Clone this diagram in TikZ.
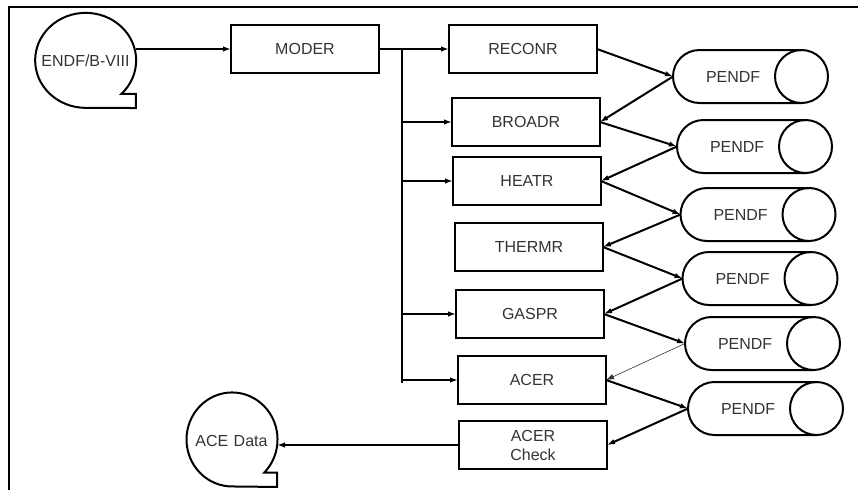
\documentclass[tikz,border=0pt]{standalone}
\usepackage{fontspec}
\setmainfont{Liberation Sans}
\usetikzlibrary{shapes.geometric,arrows.meta}
\definecolor{txtgray}{HTML}{333333}
\begin{document}
\begin{tikzpicture}[x=1pt,y=1pt,
    line width=2pt,
    proc/.style={draw,minimum width=148pt,minimum height=48pt,inner sep=0pt,outer sep=0pt,
      font=\fontsize{16}{19}\selectfont,text=txtgray,align=center},
    tape/.style={ellipse,outer sep=0pt,text height=12pt,text depth=0pt,align=center,
      font=\fontsize{16}{19}\selectfont,text=txtgray},
    pendf/.style={minimum height=53pt,inner xsep=33pt,inner ysep=0pt,outer sep=0pt,text width=89pt,
      align=left,font=\fontsize{16}{19}\selectfont,text=txtgray},
    arr/.style={-{Latex[length=8pt,width=5.5pt]}}]
    \useasboundingbox (0,0) rectangle (858,-490);
    \draw[line width=2.4pt] (9,-490) -- (9,-7) -- (858,-7);
    % data sources
    \node[tape,text width=90pt,inner xsep=-9.3pt,inner ysep=27.6pt] (endf) at (85.5,-60.5) {ENDF/B-VIII};
    \node[tape,text width=74pt,inner xsep=-4.8pt,inner ysep=27.2pt] (acedata) at (231.5,-440) {ACE Data};
    \draw (endf.-43.25) arc[start angle=-45,end angle=270,x radius=50.5pt,y radius=47.5pt]
      -- (endf.south -| endf.east) -- (endf.east |- endf.-43.25) -- cycle;
    \draw (acedata.-45.9) arc[start angle=-45,end angle=270,x radius=45.5pt,y radius=47pt]
      -- (acedata.south -| acedata.east) -- (acedata.east |- acedata.-45.9) -- cycle;
    % modules
    \node[proc] (moder) at (305,-49) {MODER};
    \node[proc] (reconr) at (523,-49) {RECONR};
    \node[proc] (broadr) at (526,-122) {BROADR};
    \node[proc] (heatr) at (527,-181) {HEATR};
    \node[proc] (thermr) at (529,-247) {THERMR};
    \node[proc] (gaspr) at (530,-314) {GASPR};
    \node[proc] (acer) at (532,-380) {ACER};
    \node[proc] (acercheck) at (533,-445) {ACER\\Check};
    % pendf files
    \node[pendf] (p1) at (750.5,-76.5) {PENDF};
    \node[pendf] (p2) at (754.5,-146.5) {PENDF};
    \node[pendf] (p3) at (758,-214.5) {PENDF};
    \node[pendf] (p4) at (760,-278.5) {PENDF};
    \node[pendf] (p5) at (762.5,-343.5) {PENDF};
    \node[pendf] (p6) at (765.5,-408.5) {PENDF};
    \foreach \p in {p1,p2,p3,p4,p5,p6} {
      \draw ([xshift=-26.5pt]\p.north east) -- ([xshift=26.5pt]\p.north west)
        arc[start angle=90,end angle=270,radius=26.5pt] -- ([xshift=-26.5pt]\p.south east);
      \draw ([xshift=-26.5pt]\p.east) circle[radius=26.5pt];
    }
    % bus from moder
    \coordinate (bus) at (402,-49);
    \coordinate (busend) at (402,-383);
    \draw[arr] (endf.east |- moder.west) -- (moder.west);
    \draw[arr] (moder.east) -- (reconr.west);
    \draw (bus) -- (busend);
    \draw[arr] (bus |- broadr) -- (broadr.west);
    \draw[arr] (bus |- heatr) -- (heatr.west);
    \draw[arr] (bus |- gaspr) -- (gaspr.west);
    \draw[arr] (bus |- acer) -- (acer.west);
    % zig-zag through pendf
    \draw[arr] (reconr.east) -- (p1.west);
    \draw[arr] (p1.west) -- (broadr.east);
    \draw[arr] (broadr.east) -- (p2.west);
    \draw[arr] (p2.west) -- (heatr.east);
    \draw[arr] (heatr.east) -- (p3.west);
    \draw[arr] (p3.west) -- (thermr.east);
    \draw[arr] (thermr.east) -- (p4.west);
    \draw[arr] (p4.west) -- (gaspr.east);
    \draw[arr] (gaspr.east) -- (p5.west);
    \draw[arr,line width=0.6pt,draw=txtgray] (p5.west) -- (acer.east);
    \draw[arr] (acer.east) -- (p6.west);
    \draw[arr] (p6.west) -- (acercheck.east);
    \draw[arr] (acercheck.west) -- (acercheck.west -| acedata.east);
\end{tikzpicture}
\end{document}
